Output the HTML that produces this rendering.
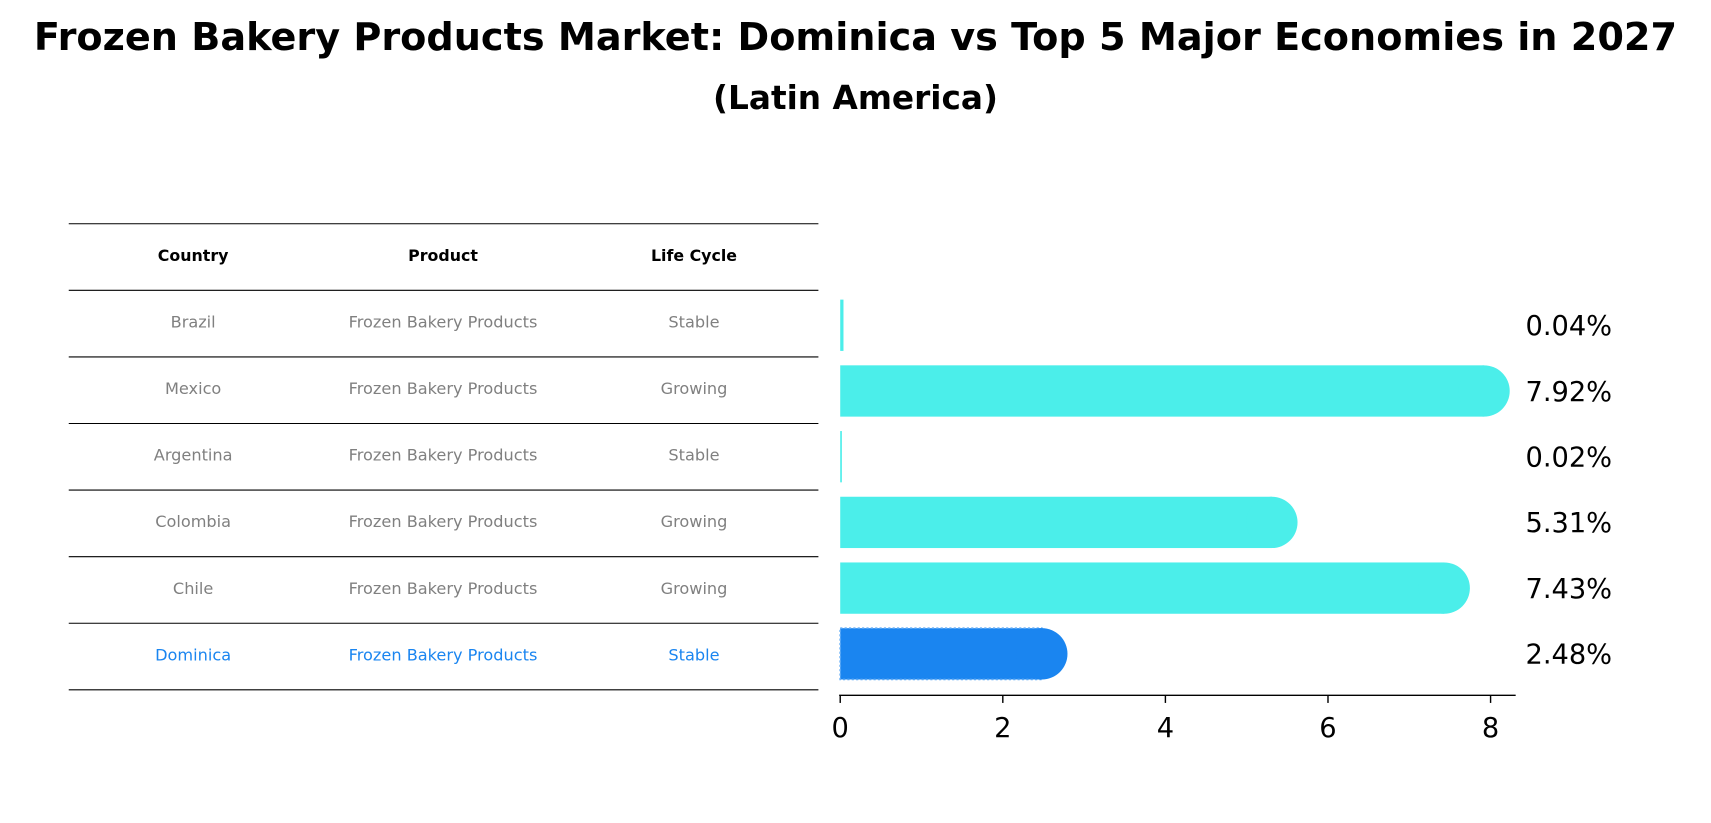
<!DOCTYPE html>
<html><head><meta charset="utf-8"><style>
body{margin:0;background:#fff;font-family:"Liberation Sans","DejaVu Sans",sans-serif}
svg{display:block}
</style></head><body>
<svg width="1711" height="823" viewBox="0 0 1568 754" preserveAspectRatio="none" xmlns="http://www.w3.org/2000/svg">
<text x="784" y="46" text-anchor="middle" font-size="35" font-weight="bold" font-family="DejaVu Sans, sans-serif">Frozen Bakery Products Market: Dominica vs Top 5 Major Economies in 2027</text>
<text x="784" y="100" text-anchor="middle" font-size="30" font-weight="bold" font-family="DejaVu Sans, sans-serif">(Latin America)</text>
<g id="table"></g>
<g id="bars"></g>
</svg>
<script>
const countries=["Brazil","Mexico","Argentina","Colombia","Chile","Dominica"];
const products=["Frozen Bakery Products","Frozen Bakery Products","Frozen Bakery Products","Frozen Bakery Products","Frozen Bakery Products","Frozen Bakery Products"];
const lifeCycles=["Stable","Growing","Stable","Growing","Growing","Stable"];
const values=[0.04,7.92,0.02,5.31,7.43,2.48];
const xTicks=[0,2,4,6,8];
const NS="http://www.w3.org/2000/svg";
function mk(t,a,p){const e=document.createElementNS(NS,t);for(const k in a)e.setAttribute(k,a[k]);p.appendChild(e);return e;}
const xs=v=>770+v*74.5;
const rowY=i=>298+i*60.2;
const tbl=document.getElementById('table');
const lineYs=[205,266,327,388,449,510,571,632];
lineYs.forEach((y,i)=>{const l=mk('line',{x1:63,x2:750,y1:y,y2:y,stroke:'#000','stroke-width':1},tbl);

});
const colX=[177,406,636];
["Country","Product","Life Cycle"].forEach((h,j)=>{const t=mk('text',{x:colX[j],y:239,'text-anchor':'middle','font-size':14.5,'font-weight':'bold','font-family':'DejaVu Sans, sans-serif'},tbl);t.textContent=h;

});
countries.forEach((c,i)=>{const y=300+i*61;const col=c==="Dominica"?"#1a85f0":"#808080";
[c,products[i],lifeCycles[i]].forEach((v,j)=>{const t=mk('text',{x:colX[j],y:y,'text-anchor':'middle','font-size':14.8,fill:col,'font-family':'DejaVu Sans, sans-serif'},tbl);t.textContent=v;

});});
const g=document.getElementById('bars');
values.forEach((v,i)=>{const cy=rowY(i);const col=countries[i]==="Dominica"?"#1a85f0":"#4beeea";
const w=xs(v)-xs(0);
const r=mk('rect',{x:xs(0),y:cy-23.5,width:Math.max(w,1.5),height:47,fill:col},g);
if(countries[i]==="Dominica"){r.setAttribute('stroke','#5aa8f5');r.setAttribute('stroke-dasharray','2,2');r.setAttribute('stroke-width','1.5');}


if(v>0.5){const c=mk('circle',{cx:xs(v),cy:cy,r:23.5,fill:col},g);

}
const t=mk('text',{x:1398,y:cy+9,'font-size':25,'font-family':'DejaVu Sans, sans-serif'},g);t.textContent=v.toFixed(2)+'%';

});
const ax=mk('line',{x1:769,x2:1389,y1:637,y2:637,stroke:'#000','stroke-width':1.3},g);


xTicks.forEach(v=>{const l=mk('line',{x1:xs(v),x2:xs(v),y1:637,y2:644,stroke:'#000','stroke-width':1.3},g);


const t=mk('text',{x:xs(v),y:675,'text-anchor':'middle','font-size':25,'font-family':'DejaVu Sans, sans-serif'},g);t.textContent=v;

});
</script>
</body></html>
